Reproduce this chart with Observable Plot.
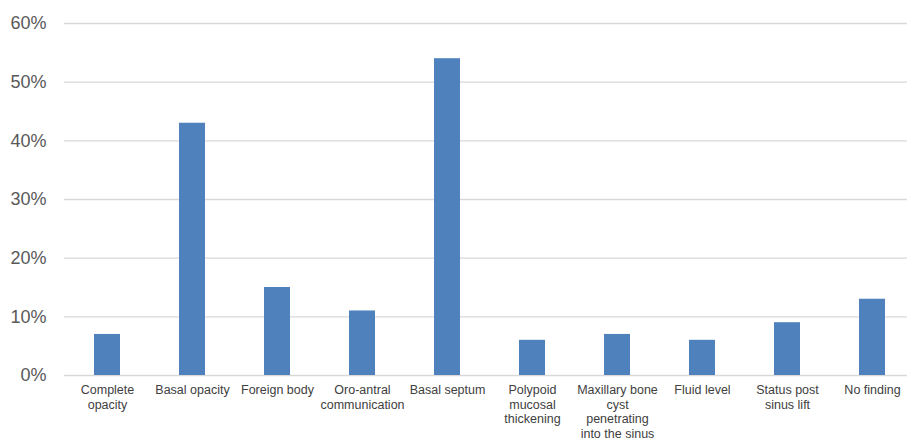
<!DOCTYPE html>
<html>
<head>
<meta charset="utf-8">
<script src="https://cdn.jsdelivr.net/npm/d3@7"></script>
<script src="https://cdn.jsdelivr.net/npm/@observablehq/plot@0.6"></script>
<style>
  html, body { margin: 0; padding: 0; background: #fff; }
  #chart svg { display: block; overflow: visible; }
</style>
</head>
<body>
<div id="chart"></div>
<script>
const categories = [
  "Complete\nopacity",
  "Basal opacity",
  "Foreign body",
  "Oro-antral\ncommunication",
  "Basal septum",
  "Polypoid\nmucosal\nthickening",
  "Maxillary bone\ncyst\npenetrating\ninto the sinus",
  "Fluid level",
  "Status post\nsinus lift",
  "No finding"
];
const values = [7, 43, 15, 11, 54, 6, 7, 6, 9, 13];
const yTicks = [0, 10, 20, 30, 40, 50, 60];

const data = categories.map((c, i) => ({cat: c, value: values[i]}));

const chart = Plot.plot({
  width: 907,
  height: 440,
  marginLeft: 64,
  marginRight: 0,
  marginTop: 23,
  marginBottom: 65,
  style: {fontFamily: "'Liberation Sans', Arial, Helvetica, sans-serif", background: "#fff"},
  x: {domain: categories, range: [63.7, 916.6], paddingInner: 0.69, paddingOuter: 0.345, label: null},
  y: {domain: [0, 60], label: null},
  marks: [
    Plot.ruleY(yTicks, {stroke: "#d9d9d9", strokeWidth: 1.3}),
    Plot.barY(data, {x: "cat", y: "value", fill: "#4f81bd"}),
    Plot.axisY(yTicks, {tickSize: 0, tickPadding: 18, fontSize: 18, fill: "#595959", tickFormat: d => d + "%", label: null}),
    Plot.axisX({tickSize: 0, tickPadding: 8, fontSize: 12.5, lineHeight: 1.17, fill: "#404040", label: null})
  ]
});
document.getElementById("chart").appendChild(chart);
</script>
</body>
</html>
